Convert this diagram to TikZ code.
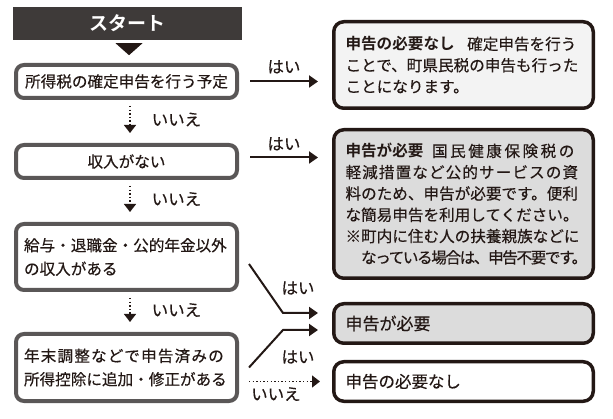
\documentclass[tikz,border=0pt]{standalone}
\usepackage{fontspec}
\setmainfont{Noto Sans CJK JP}[BoldFont={Noto Sans CJK JP Bold}, UprightFeatures={FakeBold=0.35}]
\usepackage{xcolor}
\usetikzlibrary{arrows.meta}

\definecolor{ink}{HTML}{231815}
\definecolor{framegray}{HTML}{5A5757}
\definecolor{startbg}{HTML}{3E3A39}
\definecolor{palefill}{HTML}{F3F3F3}
\definecolor{boxfill}{HTML}{DCDCDC}

\begin{document}
\begin{tikzpicture}[x=1pt, y=-1pt,
    startbox/.style={fill=startbg, minimum width=229pt, minimum height=33pt, text=white, font=\fontsize{19}{19}\selectfont\bfseries},
    question/.style={draw=framegray, line width=4pt, rounded corners=8pt, fill=white, text width=205pt, inner xsep=8pt, inner ysep=0pt, minimum height=#1, text=ink, font=\fontsize{15.6}{23.5}\selectfont},
    answer/.style={draw=ink, line width=3.5pt, rounded corners=10pt, fill=#1, text width=236pt, inner xsep=11.75pt, inner ysep=0pt, anchor=west, align=left, text=ink, font=\fontsize{15.6}{21.3}\selectfont},
    yesarrow/.style={ink, line width=2pt, -{Triangle[length=9pt, width=12pt]}},
    noarrow/.style={ink, line width=1.4pt, dash pattern=on 1.4pt off 2.2pt, -{Triangle[length=8pt, width=12pt]}},
    answertext/.style={text=ink, font=\fontsize{16.5}{16.5}\selectfont, inner sep=1pt}]
  % Fix the page to the reference size
  \useasboundingbox (0,0) rectangle (613,419);

  % Start box and its marker
  \node[startbox] (start) at (127.5,23.5) {スタート};
  \fill[ink] ([xshift=-12pt, yshift=-3pt]start.south) -- ([xshift=15pt, yshift=-3pt]start.south) -- ([xshift=1.5pt, yshift=-15pt]start.south) -- cycle;

  % Questions on the left
  \node[question=33pt, align=center] (q1) at (126.5,81.5) {所得税の確定申告を行う予定};
  \node[question=33pt, align=center] (q2) at (126.5,161.5) {収入がない};
  \node[question=66pt, align=left] (q3) at (126.5,257) {給与・退職金・公的年金以外\\の収入がある};
  \node[question=67pt, align=left] (q4) at (126.5,367.5) {{\addfontfeature{LetterSpace=7.5}年末調整などで申告済みの}\\所得控除に追加・修正がある};

  % Answers on the right
  \node[answer=palefill, minimum height=86.5pt] (r1) at (332,65) {{\bfseries 申告の必要なし}\hspace{0.8em}確定申告を行う\\ことで、町県民税の申告も行った\\ことになります。};
  \node[answer=boxfill, minimum height=148.5pt] (r2) at (332,204) {{\bfseries 申告が必要}\hspace{0.55em}{\addfontfeature{LetterSpace=16}国民健康保険税の}\\{\addfontfeature{LetterSpace=7}軽減措置など公的サービスの資}\\料のため、申告が必要です。便利\\な簡易申告を利用してください。\\※町内に住む人の扶養親族などに\\\hspace*{1em}{\addfontfeature{LetterSpace=-9}なっている場合は、申告不要です。}};
  \node[answer=boxfill, minimum height=39.5pt, font=\fontsize{17}{17}\selectfont] (r3) at (332,323.5) {申告が必要};
  \node[answer=white, minimum height=39.5pt, font=\fontsize{16.5}{16.5}\selectfont] (r4) at (332,381.5) {申告の必要なし};

  % Dotted steps down (no)
  \draw[noarrow] ([xshift=3.5pt, yshift=-6pt]q1.south) -- node[answertext, right=20pt] (no1) {いいえ} ([xshift=3.5pt, yshift=10pt]q2.north);
  \draw[noarrow] ([xshift=3.5pt, yshift=-6pt]q2.south) -- node[answertext, right=20pt] (no2) {いいえ} ([xshift=3.5pt, yshift=10pt]q3.north);
  \draw[noarrow] ([xshift=3.5pt, yshift=-6pt]q3.south) -- node[answertext, right=20pt] (no3) {いいえ} ([xshift=3.5pt, yshift=10pt]q4.north);

  % Arrows to the right (yes)
  \draw[yesarrow] ([xshift=11pt]q1.east) -- node[answertext, above=6pt] (yes1) {はい} ([xshift=-14pt]q1.east -| r1.west);
  \draw[yesarrow] ([xshift=11pt, yshift=4pt]q2.east) -- node[answertext, above=5pt] (yes2) {はい} ([xshift=-14pt, yshift=4pt]q2.east -| r2.west);

  \coordinate (inU) at ([xshift=-14pt, yshift=10.5pt]r3.west);
  \coordinate (inL) at ([xshift=-14pt, yshift=-6.5pt]r3.west);
  \draw[yesarrow] ([xshift=10pt, yshift=-7pt]q3.east) -- ([xshift=-35pt]inU) -- (inU);
  \draw[yesarrow] ([xshift=10pt]q4.east) -- ([xshift=-35pt]inL) -- (inL);
  \node[answertext] (yes3) at ([xshift=-20pt, yshift=25pt]inU) {はい};
  \node[answertext] (yes4) at ([xshift=-20pt, yshift=-27pt]inL) {はい};

  \draw[noarrow] ([xshift=10pt]q4.east |- r4.west) -- node[pos=0.38, answertext, below=4pt] (no4) {いいえ} ([xshift=-12pt]r4.west);
\end{tikzpicture}
\end{document}
